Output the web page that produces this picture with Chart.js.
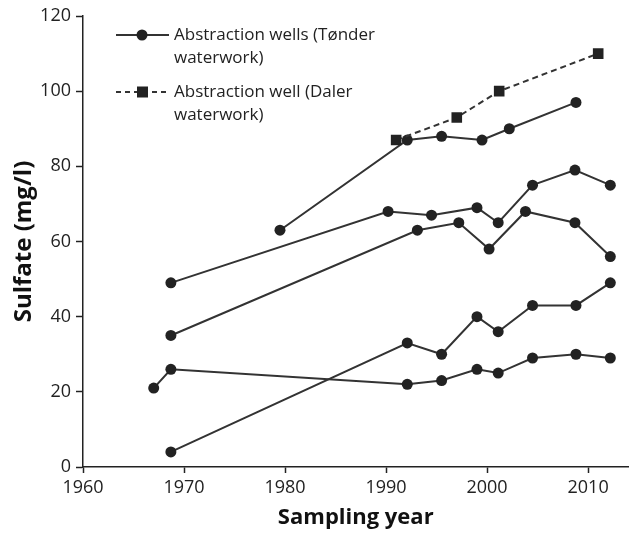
<!DOCTYPE html>
<html>
<head>
<meta charset="utf-8">
<script src="https://cdn.jsdelivr.net/npm/chart.js@4.4.1/dist/chart.umd.min.js"></script>
<style>
    html, body { margin: 0; padding: 0; background: #fff; }
    #wrap { width: 636px; height: 539px; }
</style>
</head>
<body>
<div id="wrap"><canvas id="chart" width="636" height="539"></canvas></div>
<script>
// Sulfate concentrations per abstraction well, by sampling year
const wellAYears = [1979.5, 1992.1, 1995.5, 1999.5, 2002.2, 2008.8];
const wellAValues = [63, 87, 88, 87, 90, 97];

const wellBYears = [1968.7, 1990.2, 1994.5, 1999.0, 2001.1, 2004.5, 2008.7, 2012.2];
const wellBValues = [49, 68, 67, 69, 65, 75, 79, 75];

const wellCYears = [1968.7, 1993.1, 1997.2, 2000.2, 2003.8, 2008.7, 2012.2];
const wellCValues = [35, 63, 65, 58, 68, 65, 56];

const wellDYears = [1968.7, 1992.1, 1995.5, 1999.0, 2001.1, 2004.5, 2008.8, 2012.2];
const wellDValues = [4, 33, 30, 40, 36, 43, 43, 49];

const wellEYears = [1967.0, 1968.7, 1992.1, 1995.5, 1999.0, 2001.1, 2004.5, 2008.8, 2012.2];
const wellEValues = [21, 26, 22, 23, 26, 25, 29, 30, 29];

const dalerYears = [1991.0, 1997.0, 2001.2, 2011.0];
const dalerValues = [87, 93, 100, 110];

const xTickYears = [1960, 1970, 1980, 1990, 2000, 2010];
const yTickValues = [0, 20, 40, 60, 80, 100, 120];

const legendTønder = ['Abstraction wells (Tønder', 'waterwork)'];
const legendDaler = ['Abstraction well (Daler', 'waterwork)'];

const LINE = '#333333';
const MARK = '#222222';
const FONT = '"Open Sans", "DejaVu Sans", sans-serif';

function toPoints(years, values) {
    return years.map((x, i) => ({ x: x, y: values[i] }));
}

function wellDataset(years, values) {
    return {
        data: toPoints(years, values),
        borderColor: LINE,
        borderWidth: 2,
        pointStyle: 'circle',
        pointRadius: 5.5,
        pointBackgroundColor: MARK,
        pointBorderColor: MARK,
        pointBorderWidth: 0,
        showLine: true,
        tension: 0
    };
}

const datasets = [
    {
        data: toPoints(dalerYears, dalerValues),
        borderColor: LINE,
        borderWidth: 2,
        borderDash: [6, 4],
        pointStyle: 'rect',
        pointRadius: 7.5,
        pointBackgroundColor: MARK,
        pointBorderColor: MARK,
        pointBorderWidth: 0,
        showLine: true,
        tension: 0
    },
    wellDataset(wellAYears, wellAValues),
    wellDataset(wellBYears, wellBValues),
    wellDataset(wellCYears, wellCValues),
    wellDataset(wellDYears, wellDValues),
    wellDataset(wellEYears, wellEValues)
];

// Two-line legend drawn inside the plot, top left
const wrappedLegend = {
    id: 'wrappedLegend',
    afterDraw(chart) {
        const ctx = chart.ctx;
        const entries = [
            { lines: legendTønder, dashed: false, square: false, y: 35 },
            { lines: legendDaler, dashed: true, square: true, y: 92 }
        ];
        ctx.save();
        entries.forEach(e => {
            ctx.strokeStyle = LINE;
            ctx.lineWidth = 2;
            ctx.setLineDash(e.dashed ? [5, 4] : []);
            ctx.beginPath();
            ctx.moveTo(116, e.y);
            ctx.lineTo(169, e.y);
            ctx.stroke();
            ctx.setLineDash([]);
            ctx.fillStyle = MARK;
            if (e.square) {
                ctx.fillRect(137, e.y - 5.5, 11, 11);
            } else {
                ctx.beginPath();
                ctx.arc(142, e.y, 5.5, 0, Math.PI * 2);
                ctx.fill();
            }
            ctx.fillStyle = '#222';
            ctx.font = '17px ' + FONT;
            ctx.textBaseline = 'middle';
            ctx.textAlign = 'left';
            e.lines.forEach((t, i) => ctx.fillText(t, 174, e.y + i * 23));
        });
        ctx.restore();
    }
};

new Chart(document.getElementById('chart'), {
    type: 'scatter',
    data: { datasets: datasets },
    options: {
        responsive: false,
        animation: false,
        layout: { padding: { left: 0, top: 16, right: 2, bottom: 0 } },
        plugins: {
            legend: { display: false },
            tooltip: { enabled: false }
        },
        scales: {
            x: {
                type: 'linear',
                min: 1960,
                max: 2014,
                afterBuildTicks: (scale) => {
                    scale.ticks = xTickYears.map(v => ({ value: v }));
                },
                afterFit: (scale) => {
                    scale.height = 72;
                    scale.paddingLeft = 0;
                    scale.paddingRight = 0;
                },
                border: { display: true, color: '#222', width: 1.5 },
                grid: {
                    drawOnChartArea: false,
                    drawTicks: true,
                    tickLength: 6,
                    tickWidth: 1.5,
                    tickColor: '#222'
                },
                ticks: {
                    color: '#222',
                    padding: 4,
                    font: { family: FONT, size: 18 },
                    callback: (v) => String(v)
                },
                title: {
                    display: true,
                    text: 'Sampling year',
                    color: '#111',
                    font: { family: FONT, size: 22, weight: 'bold' },
                    padding: { top: 0, bottom: 8 }
                }
            },
            y: {
                type: 'linear',
                min: 0,
                max: 120,
                afterBuildTicks: (scale) => {
                    scale.ticks = yTickValues.map(v => ({ value: v }));
                },
                afterFit: (scale) => { scale.width = 83; },
                border: { display: true, color: '#222', width: 1.5 },
                grid: {
                    drawOnChartArea: false,
                    drawTicks: true,
                    tickLength: 7,
                    tickWidth: 1.5,
                    tickColor: '#222'
                },
                ticks: {
                    color: '#222',
                    padding: 5,
                    font: { family: FONT, size: 18 }
                },
                title: {
                    display: true,
                    text: 'Sulfate (mg/l)',
                    color: '#111',
                    font: { family: FONT, size: 24, weight: 'bold' },
                    padding: { top: 10, bottom: 0 }
                }
            }
        }
    },
    plugins: [wrappedLegend]
});
</script>
</body>
</html>
